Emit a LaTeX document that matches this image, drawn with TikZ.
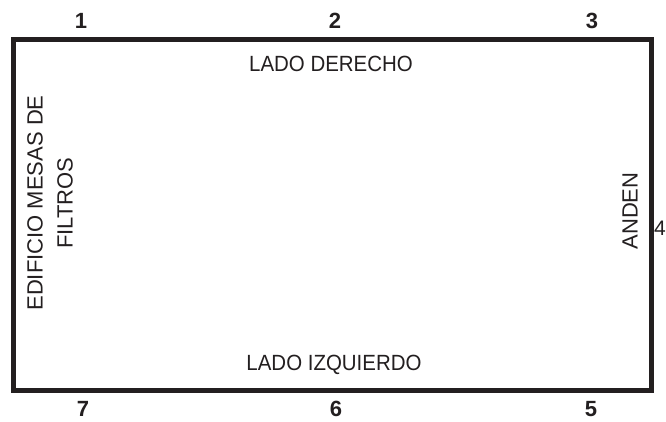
\documentclass[tikz,border=0pt]{standalone}
\usepackage{fontspec}
\setmainfont{Liberation Sans}
\definecolor{ink}{HTML}{231F20}
\begin{document}
\begin{tikzpicture}[x=1pt,y=-1pt,
  lbl/.style={text=ink,font=\fontsize{22}{26}\selectfont,inner sep=0pt,anchor=center},
  num/.style={text=ink,font=\fontsize{22}{26}\selectfont\bfseries,inner sep=0pt,anchor=center},
  frame/.style={draw=ink,line width=5pt}]
\useasboundingbox (0,0) rectangle (666,422);
\fill[white] (0,0) rectangle (666,422);
\draw[frame] (13.5,39.5) rectangle (651.5,390.5);
\node[num] (n1) at (81,21) {1};
\node[num] (n2) at (335,21) {2};
\node[num] (n3) at (592,21) {3};
\node[num] (n7) at (83,409) {7};
\node[num] (n6) at (336,409) {6};
\node[num] (n5) at (591,409) {5};
\node[lbl,font=\fontsize{21}{24}\selectfont] (n4) at (660,228) {4};
\node[lbl,xscale=0.93] (der) at (331,64) {LADO DERECHO};
\node[lbl,xscale=0.93] (izq) at (334,365) {LADO IZQUIERDO};
\node[lbl,rotate=90,align=center,font=\fontsize{22}{30}\selectfont] (edif) at (50,203) {EDIFICIO MESAS DE\\FILTROS};
\node[lbl,rotate=90] (anden) at (630,211) {ANDEN};
\end{tikzpicture}
\end{document}
